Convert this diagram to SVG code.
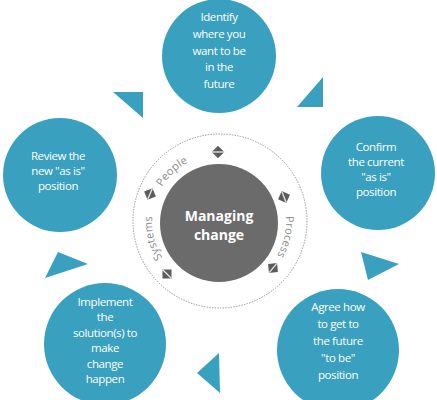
<svg xmlns="http://www.w3.org/2000/svg" width="437" height="400" viewBox="0 0 437 400">
<style>
.node circle.b{fill:#3aa0bf}
.bt{font-family:"Open Sans","DejaVu Sans",sans-serif;font-size:11.5px;fill:#ffffff;text-anchor:middle;letter-spacing:-0.4px}
.tri{fill:#3aa0bf}
.ring{font-family:"Open Sans","DejaVu Sans",sans-serif;font-size:11px;fill:#8a8a8a;letter-spacing:0.2px}
.dia{fill:#5c5c5c}
.dl{stroke:#e8e8e8;stroke-width:1.3}
</style>
<defs>
<path id="ringPath" d="M219 289 A67 67 0 1 1 219 155 A67 67 0 1 1 219 289"/>
<g id="diamond"><rect class="dia" x="-4.5" y="-4.5" width="9" height="9" transform="rotate(45)"/><line class="dl" x1="-6" y1="0" x2="6" y2="0"/></g>
</defs>
<rect width="437" height="400" fill="#ffffff"/>

<g id="center">
<circle cx="220" cy="221" r="87" fill="none" stroke="#9a9a9a" stroke-width="1" stroke-dasharray="1.5 1.2"/>
<circle cx="219" cy="223" r="59" fill="#6b6b6b"/>
<text font-family="'Open Sans','DejaVu Sans',sans-serif" font-size="14" font-weight="bold" fill="#ffffff" text-anchor="middle"><tspan x="219" y="221">Managing</tspan><tspan x="219" y="240">change</tspan></text>
<text class="ring"><textPath href="#ringPath" startOffset="160" text-anchor="middle">People</textPath></text>
<text class="ring"><textPath href="#ringPath" startOffset="330" text-anchor="middle">Process</textPath></text>
<text class="ring"><textPath href="#ringPath" startOffset="89" text-anchor="middle">Systems</textPath></text>
<use href="#diamond" transform="translate(218 152)"/>
<use href="#diamond" transform="translate(150 194) rotate(-67)"/>
<use href="#diamond" transform="translate(284 197) rotate(69)"/>
<use href="#diamond" transform="translate(167 274) rotate(45)"/>
<use href="#diamond" transform="translate(273 268) rotate(-50)"/>
</g>

<g id="connectors">
<polygon class="tri" points="113,92 143,92 143,118"/>
<polygon class="tri" points="297,107 323,77 323,107"/>
<polygon class="tri" points="361,252 399,264 368,280"/>
<polygon class="tri" points="219,353 197,373 220,393"/>
<polygon class="tri" points="58,252 88,264 45,278"/>
</g>

<g id="n-identify" class="node">
<circle class="b" cx="219" cy="56" r="57"/>
<text class="bt" font-size="12"><tspan x="219" y="21">Identify</tspan><tspan x="219" y="38">where you</tspan><tspan x="219" y="55">want to be</tspan><tspan x="219" y="71">in the</tspan><tspan x="219" y="88">future</tspan></text>
</g>

<g id="n-confirm" class="node">
<circle class="b" cx="378" cy="173" r="57"/>
<text class="bt"><tspan x="376" y="151">Confirm</tspan><tspan x="376" y="166">the current</tspan><tspan x="376" y="181">"as is"</tspan><tspan x="376" y="196">position</tspan></text>
</g>

<g id="n-agree" class="node">
<circle class="b" cx="338" cy="350" r="61"/>
<text class="bt"><tspan x="338" y="311">Agree how</tspan><tspan x="338" y="328">to get to</tspan><tspan x="338" y="345">the future</tspan><tspan x="338" y="362">"to be"</tspan><tspan x="338" y="379">position</tspan></text>
</g>

<g id="n-implement" class="node">
<circle class="b" cx="105" cy="344" r="61"/>
<text class="bt"><tspan x="105" y="306">Implement</tspan><tspan x="105" y="321">the</tspan><tspan x="105" y="337">solution(s) to</tspan><tspan x="105" y="352">make</tspan><tspan x="105" y="368">change</tspan><tspan x="105" y="383">happen</tspan></text>
</g>

<g id="n-review" class="node">
<circle class="b" cx="60" cy="175" r="57"/>
<text class="bt"><tspan x="58" y="160">Review the</tspan><tspan x="58" y="175">new "as is"</tspan><tspan x="58" y="190">position</tspan></text>
</g>
</svg>
